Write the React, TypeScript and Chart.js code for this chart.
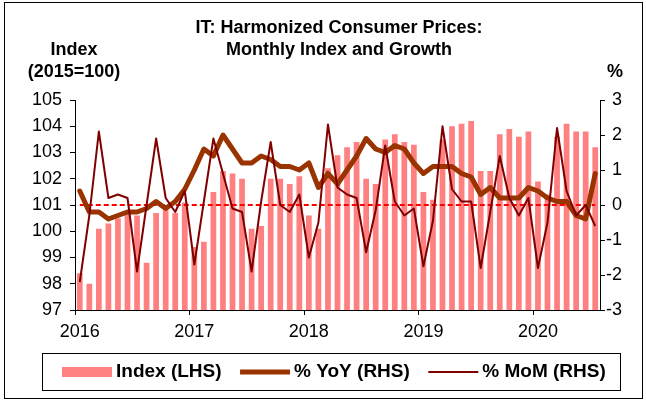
import React, { useEffect, useRef } from 'react';
import { Chart, registerables } from 'chart.js';

Chart.register(...registerables);

const CATEGORIES = [
  '2016-01', '2016-02', '2016-03', '2016-04', '2016-05', '2016-06', '2016-07', '2016-08', '2016-09', '2016-10', '2016-11', '2016-12',
  '2017-01', '2017-02', '2017-03', '2017-04', '2017-05', '2017-06', '2017-07', '2017-08', '2017-09', '2017-10', '2017-11', '2017-12',
  '2018-01', '2018-02', '2018-03', '2018-04', '2018-05', '2018-06', '2018-07', '2018-08', '2018-09', '2018-10', '2018-11', '2018-12',
  '2019-01', '2019-02', '2019-03', '2019-04', '2019-05', '2019-06', '2019-07', '2019-08', '2019-09', '2019-10', '2019-11', '2019-12',
  '2020-01', '2020-02', '2020-03', '2020-04', '2020-05', '2020-06', '2020-07',
];

const INDEX_LHS = [
  98.4, 98.0, 100.1, 100.3, 100.5, 100.7, 100.6, 98.8, 100.7, 100.8, 100.7, 101.1,
  99.4, 99.6, 101.5, 102.3, 102.2, 102.0, 100.1, 100.2, 102.0, 102.0, 101.8, 102.1,
  100.6, 100.1, 102.4, 102.9, 103.2, 103.4, 102.0, 101.8, 103.5, 103.7, 103.4, 103.3,
  101.5, 101.2, 103.5, 104.0, 104.1, 104.2, 102.3, 102.3, 103.7, 103.9, 103.6, 103.8,
  101.9, 101.4, 103.6, 104.1, 103.8, 103.8, 103.2,
];

const YOY_RHS = [
  0.4, -0.2, -0.2, -0.4, -0.3, -0.2, -0.2, -0.1, 0.1, -0.1, 0.1, 0.45,
  1.0, 1.6, 1.4, 2.0, 1.6, 1.2, 1.2, 1.4, 1.3, 1.1, 1.1, 1.0,
  1.2, 0.5, 0.9, 0.6, 1.0, 1.4, 1.9, 1.6, 1.5, 1.7, 1.6, 1.2,
  0.9, 1.1, 1.1, 1.1, 0.9, 0.8, 0.3, 0.5, 0.2, 0.2, 0.2, 0.5,
  0.4, 0.2, 0.1, 0.1, -0.3, -0.4, 0.9,
];

const MOM_RHS = [
  -2.2, -0.3, 2.1, 0.2, 0.3, 0.2, -1.9, 0.0, 1.9, 0.2, -0.2, 0.4,
  -1.7, 0.1, 1.9, 0.9, -0.1, -0.2, -1.9, 0.1, 1.8, 0.0, -0.2, 0.3,
  -1.5, -0.5, 2.3, 0.5, 0.3, 0.2, -1.35, -0.15, 1.7, 0.1, -0.3, -0.1,
  -1.75, -0.45, 2.25, 0.45, 0.1, 0.1, -1.8, -0.2, 1.4, 0.2, -0.3, 0.2,
  -1.8, -0.5, 2.2, 0.4, -0.3, 0.0, -0.6,
];

const YEAR_TICK_LABELS = ['2016', '2017', '2018', '2019', '2020'];
const TITLE_LINES = ['IT: Harmonized Consumer Prices:', 'Monthly Index and Growth'];
const LEFT_UNIT_LINES = ['Index', '(2015=100)'];
const RIGHT_UNIT = '%';
const SERIES_LABELS = ['Index (LHS)', '% YoY (RHS)', '% MoM (RHS)'];

const FONT_FAMILY = '"Liberation Sans", Arial, Helvetica, sans-serif';
const BAR_COLOR = '#FF8080';
const YOY_COLOR = '#993300';
const MOM_COLOR = '#800000';
const ZERO_COLOR = '#FF0000';

const decorPlugin = {
  id: 'decor',
  afterDatasetDraw(chart: any, args: any) {
    if (args.index !== 0) return;
    const { ctx } = chart;
    const xs = chart.scales.x;
    const ys = chart.scales.y1;
    const y0 = ys.getPixelForValue(0);
    ctx.save();
    ctx.strokeStyle = ZERO_COLOR;
    ctx.lineWidth = 2;
    ctx.setLineDash([5, 3]);
    ctx.beginPath();
    ctx.moveTo(xs.getPixelForValue(0), y0);
    ctx.lineTo(xs.getPixelForValue(CATEGORIES.length - 1), y0);
    ctx.stroke();
    ctx.restore();
  },
  afterDraw(chart: any) {
    const { ctx } = chart;
    ctx.save();
    // outer frame
    ctx.strokeStyle = '#000';
    ctx.lineWidth = 1;
    ctx.strokeRect(4.5, 2.5, 638, 396);

    ctx.fillStyle = '#000';
    ctx.textBaseline = 'middle';
    ctx.textAlign = 'center';
    ctx.font = `bold 18px ${FONT_FAMILY}`;
    TITLE_LINES.forEach((t, i) => ctx.fillText(t, 339, 28 + i * 22));
    LEFT_UNIT_LINES.forEach((t, i) => ctx.fillText(t, 74, 50 + i * 22));
    ctx.fillText(RIGHT_UNIT, 615, 72);

    // legend
    const boxL = 42.5, boxT = 353.5, boxW = 578, boxH = 37;
    ctx.strokeStyle = '#000';
    ctx.lineWidth = 1;
    ctx.strokeRect(boxL, boxT, boxW, boxH);
    const cy = 372;
    let x = 62;
    ctx.font = `bold 19px ${FONT_FAMILY}`;
    ctx.textAlign = 'left';
    chart.data.datasets.forEach((ds: any) => {
      if (ds.type === 'bar') {
        ctx.fillStyle = ds.backgroundColor;
        ctx.fillRect(x, cy - 5, 50, 10);
      } else {
        ctx.strokeStyle = ds.borderColor;
        ctx.lineWidth = ds.borderWidth;
        ctx.lineCap = 'butt';
        ctx.beginPath();
        ctx.moveTo(x, cy);
        ctx.lineTo(x + 50, cy);
        ctx.stroke();
      }
      x += 54;
      ctx.fillStyle = '#000';
      ctx.fillText(ds.label, x, cy);
      x += ctx.measureText(ds.label).width + 18.5;
    });
    ctx.restore();
  },
};

export default function App() {
  const ref = useRef<HTMLCanvasElement | null>(null);

  useEffect(() => {
    if (!ref.current) return;
    Chart.defaults.font.family = FONT_FAMILY;
    Chart.defaults.color = '#000';
    const tickFont = { size: 18, family: FONT_FAMILY };
    const chart = new Chart(ref.current, {
      type: 'bar',
      data: {
        labels: CATEGORIES,
        datasets: [
          {
            type: 'bar',
            label: SERIES_LABELS[0],
            data: INDEX_LHS,
            yAxisID: 'y',
            backgroundColor: BAR_COLOR,
            borderWidth: 0,
            categoryPercentage: 1,
            barPercentage: 0.6,
            order: 3,
          } as any,
          {
            type: 'line',
            label: SERIES_LABELS[1],
            data: YOY_RHS,
            yAxisID: 'y1',
            borderColor: YOY_COLOR,
            backgroundColor: YOY_COLOR,
            borderWidth: 5,
            pointRadius: 0,
            tension: 0,
            borderJoinStyle: 'round',
            borderCapStyle: 'round',
            order: 2,
          } as any,
          {
            type: 'line',
            label: SERIES_LABELS[2],
            data: MOM_RHS,
            yAxisID: 'y1',
            borderColor: MOM_COLOR,
            backgroundColor: MOM_COLOR,
            borderWidth: 2,
            pointRadius: 0,
            tension: 0,
            borderJoinStyle: 'round',
            order: 1,
          } as any,
        ],
      },
      options: {
        responsive: false,
        animation: false,
        devicePixelRatio: 1,
        layout: { padding: { left: 0, right: 24, top: 100, bottom: 61 } },
        plugins: {
          legend: { display: false },
          title: { display: false },
          tooltip: { enabled: false },
        },
        scales: {
          x: {
            type: 'category',
            offset: true,
            grid: {
              offset: true,
              drawOnChartArea: false,
              drawTicks: true,
              tickLength: 5,
              tickColor: (c: any) => (c.index % 12 === 0 ? '#000' : 'rgba(0,0,0,0)'),
            },
            border: { display: true, color: '#000', width: 1 },
            ticks: {
              autoSkip: false,
              maxRotation: 0,
              minRotation: 0,
              padding: 6,
              font: tickFont,
              color: '#000',
              callback: (_v: any, i: number) => (i % 12 === 0 ? YEAR_TICK_LABELS[i / 12] : ''),
            },
            afterFit: (s: any) => { s.height = 30; },
          },
          y: {
            type: 'linear',
            position: 'left',
            min: 97,
            max: 105,
            ticks: { stepSize: 1, padding: 8, font: tickFont, color: '#000' },
            grid: { drawOnChartArea: false, drawTicks: true, tickLength: 5, tickColor: '#000' },
            border: { display: true, color: '#000', width: 1 },
            afterFit: (s: any) => { s.width = 75; },
          },
          y1: {
            type: 'linear',
            position: 'right',
            min: -3,
            max: 3,
            ticks: { stepSize: 1, padding: 6, font: tickFont, color: '#000', crossAlign: 'far' },
            grid: { drawOnChartArea: false, drawTicks: true, tickLength: 5, tickColor: '#000' },
            border: { display: true, color: '#000', width: 1 },
            afterFit: (s: any) => { s.width = 22; },
          },
        },
      } as any,
      plugins: [decorPlugin],
    });
    return () => chart.destroy();
  }, []);

  return (
    <div style={{ position: 'fixed', left: 0, top: 0, width: 646, height: 401, background: '#fff' }}>
      <canvas ref={ref} width={646} height={401} style={{ display: 'block' }} />
    </div>
  );
}
